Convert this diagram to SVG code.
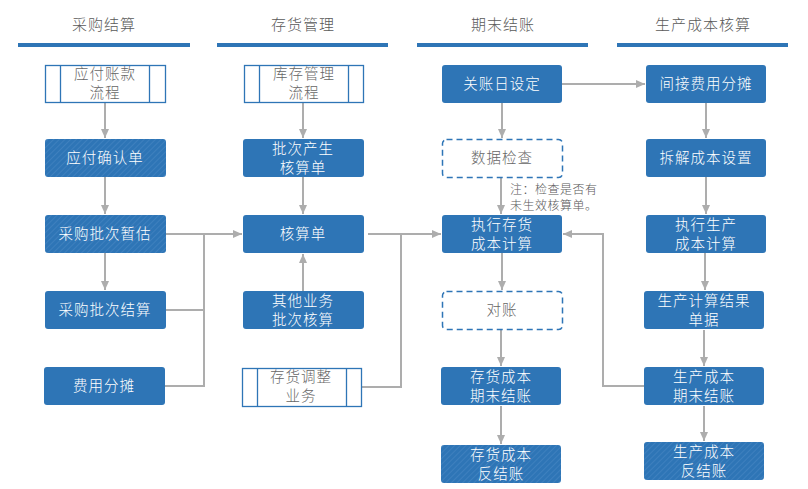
<svg xmlns="http://www.w3.org/2000/svg" width="808" height="489" viewBox="0 0 808 489">
<style>
text{font-family:"Noto Sans CJK SC","Microsoft YaHei",sans-serif;text-anchor:middle}
.hd{font-size:15px;fill:#595959;letter-spacing:1px;font-weight:300}
.bar{fill:#2E75B6}
.b{fill:#2E75B6}
.h{fill:url(#hatch)}
.t{font-size:14.5px;fill:#fff;letter-spacing:1px;font-weight:300}
.g{font-size:14.5px;fill:#666;letter-spacing:1px;font-weight:300}
.pp{fill:#fff;stroke:#2E75B6;stroke-width:1.3}
.ds{fill:#fff;stroke:#2E75B6;stroke-width:1.5;stroke-dasharray:6 4}
.c{fill:none;stroke:#ADADAD;stroke-width:2}
.a{marker-end:url(#ar)}
.note{font-size:12px;fill:#595959;text-anchor:start;letter-spacing:0.5px;font-weight:300}
</style>
<defs>
<pattern id="hatch" width="4" height="4" patternUnits="userSpaceOnUse" patternTransform="rotate(45)">
<rect width="4" height="4" fill="#2E75B6"/>
<line x1="0" y1="0" x2="0" y2="4" stroke="#4E8BC6" stroke-width="1"/>
</pattern>
<marker id="ar" markerWidth="10" markerHeight="10" refX="9" refY="5" orient="auto" markerUnits="userSpaceOnUse">
<path d="M0,1 L9,5 L0,9 Z" fill="#ADADAD"/>
</marker>
</defs>

<g id="headers">
<text class="hd" x="104" y="30">采购结算</text>
<rect class="bar" x="18" y="43" width="172" height="4"/>
<text class="hd" x="303" y="30">存货管理</text>
<rect class="bar" x="217" y="43" width="171" height="4"/>
<text class="hd" x="503" y="30">期末结账</text>
<rect class="bar" x="417" y="43" width="171" height="4"/>
<text class="hd" x="703" y="30">生产成本核算</text>
<rect class="bar" x="617" y="43" width="171" height="4"/>
</g>

<g id="connectors">
<path class="c a" d="M105,103 V138"/>
<path class="c a" d="M105,177 V214"/>
<path class="c a" d="M105,253 V290"/>
<path class="c a" d="M166,234 H242"/>
<path class="c" d="M166,310 H204 V234"/>
<path class="c" d="M165,386 H204 V310"/>
<path class="c a" d="M303,103 V138"/>
<path class="c a" d="M303,177 V214"/>
<path class="c a" d="M303,291 V254"/>
<path class="c a" d="M368,234 H441"/>
<path class="c" d="M361,387 H401 V234"/>
<path class="c a" d="M562,84 H645"/>
<path class="c a" d="M502,103 V138"/>
<path class="c a" d="M501,178 V214"/>
<path class="c a" d="M502,253 V290"/>
<path class="c a" d="M501,330 V366"/>
<path class="c a" d="M501,406 V444"/>
<path class="c a" d="M706,103 V138"/>
<path class="c a" d="M706,177 V214"/>
<path class="c a" d="M705,253 V290"/>
<path class="c a" d="M704,330 V366"/>
<path class="c a" d="M704,406 V441"/>
<path class="c a" d="M644,386 H603 V234 H563"/>
<text class="note" x="510" y="194">注：检查是否有</text>
<text class="note" x="510" y="210">未生效核算单。</text>
</g>

<g id="n-yfzk">
<rect class="pp" x="45.5" y="65.5" width="120" height="37"/>
<line x1="60.5" y1="65.5" x2="60.5" y2="102.5" stroke="#2E75B6" stroke-width="1.3"/>
<line x1="149.5" y1="65.5" x2="149.5" y2="102.5" stroke="#2E75B6" stroke-width="1.3"/>
<text class="g" x="105" y="79">应付账款</text>
<text class="g" x="105" y="98">流程</text>
</g>
<g id="n-yfqr">
<rect class="h" x="45" y="139" width="121" height="38" rx="3"/>
<text class="t" x="105" y="163">应付确认单</text>
</g>
<g id="n-cgzg">
<rect class="h" x="45" y="215" width="121" height="38" rx="3"/>
<text class="t" x="105" y="239">采购批次暂估</text>
</g>
<g id="n-cgjs">
<rect class="b" x="45" y="291" width="121" height="38" rx="3"/>
<text class="t" x="105" y="315">采购批次结算</text>
</g>
<g id="n-fyft">
<rect class="b" x="44" y="367" width="121" height="38" rx="3"/>
<text class="t" x="104" y="391">费用分摊</text>
</g>

<g id="n-kcgl">
<rect class="pp" x="244.5" y="65.5" width="119" height="37"/>
<line x1="259.5" y1="65.5" x2="259.5" y2="102.5" stroke="#2E75B6" stroke-width="1.3"/>
<line x1="348.5" y1="65.5" x2="348.5" y2="102.5" stroke="#2E75B6" stroke-width="1.3"/>
<text class="g" x="304" y="79">库存管理</text>
<text class="g" x="304" y="98">流程</text>
</g>
<g id="n-pccs">
<rect class="b" x="243" y="139" width="121" height="38" rx="3"/>
<text class="t" x="303" y="154">批次产生</text>
<text class="t" x="303" y="173">核算单</text>
</g>
<g id="n-hsd">
<rect class="b" x="243" y="215" width="121" height="38" rx="3"/>
<text class="t" x="303" y="239">核算单</text>
</g>
<g id="n-qtyw">
<rect class="b" x="243" y="291" width="121" height="38" rx="3"/>
<text class="t" x="303" y="306">其他业务</text>
<text class="t" x="303" y="325">批次核算</text>
</g>
<g id="n-chtz">
<rect class="pp" x="242.5" y="368.5" width="119" height="38"/>
<line x1="257.5" y1="368.5" x2="257.5" y2="406.5" stroke="#2E75B6" stroke-width="1.3"/>
<line x1="346.5" y1="368.5" x2="346.5" y2="406.5" stroke="#2E75B6" stroke-width="1.3"/>
<text class="g" x="301" y="382">存货调整</text>
<text class="g" x="301" y="401">业务</text>
</g>

<g id="n-gzr">
<rect class="b" x="442" y="65" width="120" height="38" rx="3"/>
<text class="t" x="502" y="89">关账日设定</text>
</g>
<g id="n-sjjc">
<rect class="ds" x="442.5" y="139.5" width="120" height="38" rx="4"/>
<text class="g" x="502" y="163">数据检查</text>
</g>
<g id="n-zxch">
<rect class="b" x="442" y="215" width="120" height="38" rx="3"/>
<text class="t" x="502" y="230">执行存货</text>
<text class="t" x="502" y="249">成本计算</text>
</g>
<g id="n-dz">
<rect class="ds" x="442.5" y="291.5" width="120" height="38" rx="4"/>
<text class="g" x="502" y="315">对账</text>
</g>
<g id="n-chqm">
<rect class="b" x="441" y="367" width="120" height="38" rx="3"/>
<text class="t" x="501" y="382">存货成本</text>
<text class="t" x="501" y="401">期末结账</text>
</g>
<g id="n-chfj">
<rect class="h" x="441" y="445" width="120" height="38" rx="3"/>
<text class="t" x="501" y="460">存货成本</text>
<text class="t" x="501" y="479">反结账</text>
</g>

<g id="n-jjfy">
<rect class="b" x="646" y="65" width="120" height="38" rx="3"/>
<text class="t" x="706" y="89">间接费用分摊</text>
</g>
<g id="n-cjcb">
<rect class="b" x="646" y="139" width="120" height="38" rx="3"/>
<text class="t" x="706" y="163">拆解成本设置</text>
</g>
<g id="n-zxsc">
<rect class="b" x="646" y="215" width="120" height="38" rx="3"/>
<text class="t" x="706" y="230">执行生产</text>
<text class="t" x="706" y="249">成本计算</text>
</g>
<g id="n-scjg">
<rect class="b" x="644" y="291" width="120" height="38" rx="3"/>
<text class="t" x="704" y="306">生产计算结果</text>
<text class="t" x="704" y="325">单据</text>
</g>
<g id="n-scqm">
<rect class="b" x="644" y="367" width="120" height="38" rx="3"/>
<text class="t" x="704" y="382">生产成本</text>
<text class="t" x="704" y="401">期末结账</text>
</g>
<g id="n-scfj">
<rect class="h" x="644" y="442" width="120" height="38" rx="3"/>
<text class="t" x="704" y="457">生产成本</text>
<text class="t" x="704" y="476">反结账</text>
</g>
</svg>
